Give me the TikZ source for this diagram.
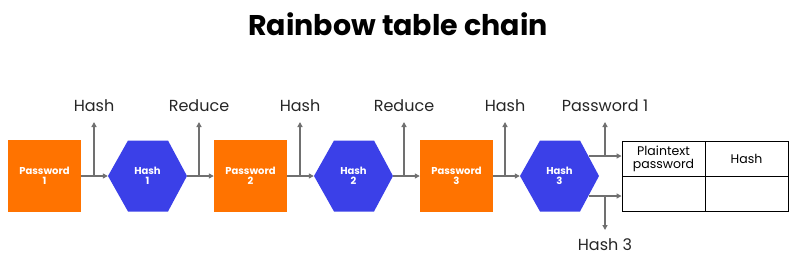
\documentclass[tikz,border=0pt]{standalone}
\usepackage{fontspec}
\setmainfont{Poppins}
\usetikzlibrary{arrows.meta,calc}
\definecolor{orng}{HTML}{FF7300}
\definecolor{hblue}{HTML}{3B40E8}
\definecolor{lgray}{HTML}{707070}
\newcommand{\hexnode}[4]{%
  \fill[hblue] (#2-39.5,#3) -- (#2-19.5,#3-35.5) -- (#2+20.5,#3-35.5) -- (#2+39.5,#3)
    -- (#2+20.5,#3+35.5) -- (#2-19.5,#3+35.5) -- cycle;
  \node[hexa] (#1) at (#2,#3) {#4};}
\begin{document}
\begin{tikzpicture}[x=1pt,y=-1pt,
  pwbox/.style={fill=orng, minimum width=73pt, minimum height=72pt, inner sep=0pt, text=white, font=\fontsize{10}{10.5}\selectfont\bfseries, align=center},
  hexa/.style={minimum width=79pt, minimum height=71pt, inner sep=0pt, text=white, font=\fontsize{10}{10.5}\selectfont\bfseries, align=center},
  conn/.style={draw=lgray, line width=1.4pt, -{Triangle[length=5pt,width=5pt]}},
  lbl/.style={font=\fontsize{16}{16}\selectfont, text=black!85, inner sep=0pt},
  cell/.style={draw=black, line width=0.9pt, minimum width=83pt, minimum height=35pt, inner sep=0pt, align=center, font=\fontsize{12.5}{13}\selectfont}
]
\useasboundingbox (0,0) rectangle (800,265);
\node[font=\fontsize{28.5}{28.5}\selectfont\bfseries] (title) at (398,24) {Rainbow table chain};

\node[pwbox] (p1) at (44.5,176) {Password\\1};
\hexnode{h1}{147.5}{176}{Hash\\1}
\node[pwbox] (p2) at (250.5,176) {Password\\2};
\hexnode{h2}{353.5}{176}{Hash\\2}
\node[pwbox] (p3) at (456.5,176) {Password\\3};
\hexnode{h3}{559.5}{176}{Hash\\3}

\node[cell] (c11) at (663.5,158.5) {Plaintext\\password};
\node[cell] (c12) at (746.5,158.5) {Hash};
\node[cell] (c21) at (663.5,193.5) {};
\node[cell] (c22) at (746.5,193.5) {};

\draw[conn] (p1.east) -- (h1.west);
\draw[conn] (h1.east) -- (p2.west);
\draw[conn] (p2.east) -- (h2.west);
\draw[conn] (h2.east) -- (p3.west);
\draw[conn] (p3.east) -- (h3.west);

\coordinate (b1) at (94,176);  \coordinate (t1) at (94,122);
\coordinate (b2) at (199,176); \coordinate (t2) at (199,122);
\coordinate (b3) at (300,176); \coordinate (t3) at (300,122);
\coordinate (b4) at (404,176); \coordinate (t4) at (404,122);
\coordinate (b5) at (505,176); \coordinate (t5) at (505,122);

\draw[conn] (b1) -- (t1);
\draw[conn] (b2) -- (t2);
\draw[conn] (b3) -- (t3);
\draw[conn] (b4) -- (t4);
\draw[conn] (b5) -- (t5);

\node[lbl] (l1) at (94,106) {Hash};
\node[lbl] (l2) at (199,106) {Reduce};
\node[lbl] (l3) at (300,106) {Hash};
\node[lbl] (l4) at (404,106) {Reduce};
\node[lbl] (l5) at (505,106) {Hash};

\coordinate (s1) at ($(h3.center)+(29,-20)$);
\coordinate (s2) at ($(h3.center)+(29,20)$);
\draw[conn] (s1) -- (s1 -| c11.west);
\draw[conn] (s2) -- (s2 -| c21.west);

\coordinate (b6) at (605,156); \coordinate (t6) at (605,122);
\coordinate (b7) at (605,196); \coordinate (t7) at (605,230);
\draw[conn] (b6) -- (t6);
\draw[conn] (b7) -- (t7);
\node[lbl] (l6) at (605,106) {Password 1};
\node[lbl] (l7) at (605,245) {Hash 3};
\end{tikzpicture}
\end{document}
